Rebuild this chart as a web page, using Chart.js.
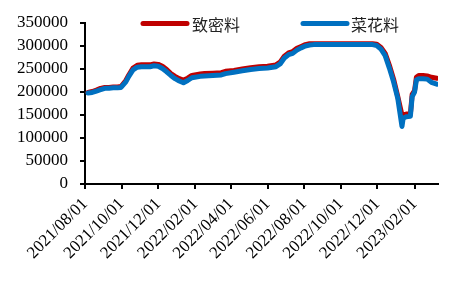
<!DOCTYPE html>
<html>
<head>
<meta charset="utf-8">
<script src="https://cdn.jsdelivr.net/npm/chart.js@4/dist/chart.umd.min.js"></script>
<style>
  html, body { margin: 0; padding: 0; background: #fff; }
  #wrap { width: 476px; height: 286px; }
</style>
</head>
<body>
<div id="wrap"><canvas id="grafico"></canvas></div>
<script>
// dados (preço, por data)
const datas = [
  '2021-08-06','2021-08-13','2021-08-20','2021-08-27','2021-09-03','2021-09-10','2021-09-17','2021-09-24','2021-09-30',
  '2021-10-08','2021-10-13','2021-10-20','2021-10-27','2021-11-03','2021-11-10','2021-11-17','2021-11-24','2021-12-01',
  '2021-12-08','2021-12-15','2021-12-22','2021-12-29','2022-01-05','2022-01-12','2022-01-19','2022-01-26','2022-02-09',
  '2022-02-16','2022-03-02','2022-03-16','2022-03-23','2022-04-06','2022-04-20','2022-05-04','2022-05-18','2022-06-01',
  '2022-06-15','2022-06-22','2022-06-29','2022-07-06','2022-07-13','2022-07-20','2022-07-27','2022-08-03','2022-08-10',
  '2022-08-17','2022-11-23','2022-11-30','2022-12-07','2022-12-14','2022-12-21','2022-12-28','2023-01-04','2023-01-11',
  '2023-01-13','2023-01-18','2023-01-25','2023-01-28','2023-02-01','2023-02-04','2023-02-08','2023-02-15','2023-02-22',
  '2023-03-01','2023-03-10'
];
const zhimi = [
  199000,201000,204000,208000,210000,210000,211000,211000,212000,
  225000,237000,252000,258000,259000,259000,259000,261000,260000,
  256000,249000,240000,234000,229000,226000,230000,236000,239000,
  240000,241000,242000,245000,247000,250000,253000,255000,256000,
  259000,265000,278000,285000,288000,295000,299000,303000,305000,
  305000,305000,304000,297000,284000,258000,228000,190000,150000,
  150000,152000,152000,195000,203000,232000,236000,236000,235000,
  232000,230000
];
const caihua = [
  198000,199000,202000,205000,208000,208000,209000,209000,210000,
  222000,234000,248000,254000,255000,255000,255000,257000,256000,
  251000,244000,236000,229000,224000,220000,225000,231000,234000,
  235000,236000,237000,240000,243000,246000,249000,251000,252000,
  255000,261000,274000,281000,284000,291000,296000,300000,302000,
  303000,303000,301000,293000,279000,252000,222000,186000,125000,
  143000,146000,147000,190000,200000,226000,229000,229000,228000,
  221000,217000
];
const nomes = ['致密料', '菜花料'];
const cores = ['#C00000', '#0070C0'];
const ticksX = ['2021-08-01','2021-10-01','2021-12-01','2022-02-01','2022-04-01','2022-06-01',
  '2022-08-01','2022-10-01','2022-12-01','2023-02-01'];
const inicio = '2021-08-01';
const fim = '2023-03-12';

function dia(s) {
  const p = s.split('-').map(Number);
  const b = inicio.split('-').map(Number);
  return Math.round((Date.UTC(p[0], p[1] - 1, p[2]) - Date.UTC(b[0], b[1] - 1, b[2])) / 864e5);
}
function rotulo(d) {
  const b = inicio.split('-').map(Number);
  const t = new Date(Date.UTC(b[0], b[1] - 1, b[2]) + d * 864e5);
  const mm = String(t.getUTCMonth() + 1).padStart(2, '0');
  const dd = String(t.getUTCDate()).padStart(2, '0');
  return t.getUTCFullYear() + '/' + mm + '/' + dd;
}

// legenda desenhada por cima da área do gráfico
const legendaPlugin = {
  id: 'legenda',
  afterDraw(chart) {
    const ctx = chart.ctx;
    const itens = [{ x0: 143, x1: 187, tx: 192 }, { x0: 303, x1: 347, tx: 351 }];
    const y = 23.5;
    ctx.save();
    chart.data.datasets.forEach((ds, i) => {
      const it = itens[i];
      ctx.strokeStyle = ds.borderColor;
      ctx.lineWidth = 5;
      ctx.lineCap = 'round';
      ctx.beginPath();
      ctx.moveTo(it.x0, y);
      ctx.lineTo(it.x1, y);
      ctx.stroke();
      ctx.fillStyle = '#222';
      ctx.font = '16px "Noto Sans CJK SC"';
      ctx.textBaseline = 'middle';
      ctx.fillText(ds.label, it.tx, y + 1);
    });
    ctx.restore();
  }
};

const fonteEixo = { family: '"Liberation Serif", "Times New Roman", serif', size: 17 };

new Chart(document.getElementById('grafico'), {
  type: 'line',
  data: {
    datasets: [
      {
        label: nomes[0],
        data: datas.map((d, i) => ({ x: dia(d), y: zhimi[i] })),
        borderColor: cores[0],
        borderWidth: 5,
        pointRadius: 0,
        borderJoinStyle: 'round',
        borderCapStyle: 'round',
        order: 2
      },
      {
        label: nomes[1],
        data: datas.map((d, i) => ({ x: dia(d), y: caihua[i] })),
        borderColor: cores[1],
        borderWidth: 5,
        pointRadius: 0,
        borderJoinStyle: 'round',
        borderCapStyle: 'round',
        order: 1
      }
    ]
  },
  options: {
    responsive: true,
    maintainAspectRatio: false,
    animation: false,
    layout: { padding: { top: 23, right: 38, left: 0, bottom: 0 } },
    plugins: { legend: { display: false }, tooltip: { enabled: false } },
    scales: {
      x: {
        type: 'linear',
        min: 0,
        max: dia(fim),
        afterBuildTicks: (s) => { s.ticks = ticksX.map(t => ({ value: dia(t) })); },
        afterFit: (s) => { s.height = 102; },
        ticks: {
          color: '#000',
          font: fonteEixo,
          minRotation: 45,
          maxRotation: 45,
          autoSkip: false,
          padding: 5,
          callback: (v) => rotulo(v)
        },
        grid: { drawOnChartArea: false, drawTicks: true, tickLength: 5, color: '#000', lineWidth: 2 },
        border: { color: '#000', width: 2 }
      },
      y: {
        min: 0,
        max: 350000,
        afterFit: (s) => { s.width = 85; },
        ticks: { stepSize: 50000, autoSkip: false, color: '#000', font: fonteEixo, padding: 12, callback: (v) => String(v) },
        grid: { drawOnChartArea: false, drawTicks: true, tickLength: 5, color: '#000', lineWidth: 2 },
        border: { color: '#000', width: 2 }
      }
    }
  },
  plugins: [legendaPlugin]
});
</script>
</body>
</html>
